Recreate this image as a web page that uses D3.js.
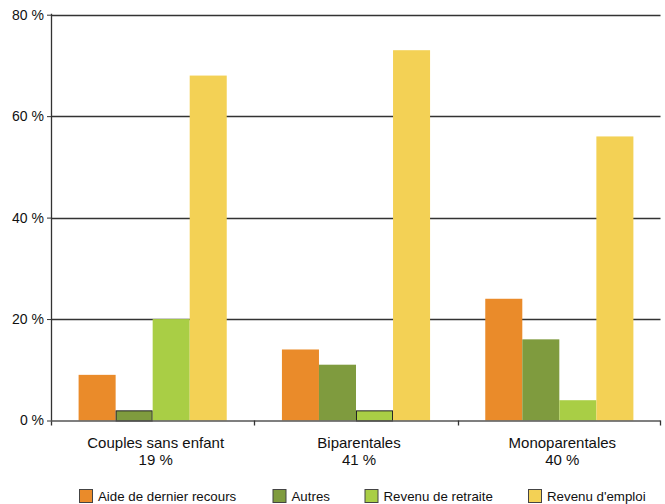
<!DOCTYPE html>
<html><head><meta charset="utf-8">
<script src="https://cdn.jsdelivr.net/npm/d3@7"></script>
<style>body{margin:0;background:#fff}svg{display:block;font-family:"Liberation Sans",Arial,sans-serif}</style>
</head><body><svg id="c" width="665" height="504"></svg>
<script>
const categories = ["Couples sans enfant", "Biparentales", "Monoparentales"];
const categoryShares = ["19 %", "41 %", "40 %"];
const seriesNames = ["Aide de dernier recours", "Autres", "Revenu de retraite", "Revenu d'emploi"];
const aide = [9, 14, 24];
const autres = [2, 11, 16];
const retraite = [20, 2, 4];
const emploi = [68, 73, 56];
const yTicks = [0, 20, 40, 60, 80];
const colors = ["#EA8B2A", "#7F9B3E", "#A9CE45", "#F3D155"];

const seriesValues = [aide, autres, retraite, emploi];
const svg = d3.select("#c");
const mLeft = 51, mRight = 661, mTop = 14.7, mBottom = 420.5;

const x0 = d3.scaleBand().domain(categories).range([mLeft, mRight]);
const pad = 27.6;
const x1 = d3.scaleBand().domain(seriesNames).range([pad, x0.bandwidth() - pad]);
const y = d3.scaleLinear().domain([0, 80]).range([mBottom, mTop]);

// gridlines
svg.append("g").selectAll("line").data(yTicks.filter(d => d > 0)).join("line")
  .attr("x1", mLeft).attr("x2", mRight - 0.5)
  .attr("y1", d => Math.round(y(d)) + 0.5).attr("y2", d => Math.round(y(d)) + 0.5)
  .attr("stroke", "#333").attr("stroke-width", 1.3);

// y axis
const ya = svg.append("g").attr("transform", `translate(${mLeft},0)`)
  .call(d3.axisLeft(y).tickValues(yTicks).tickSize(4).tickFormat(d => d + " %"));
ya.select(".domain").remove();
ya.selectAll(".tick line").attr("stroke", "#333");
ya.selectAll(".tick text").attr("font-size", 14).attr("fill", "#111").attr("x", -7)
  .attr("font-family", "Liberation Sans, Arial, sans-serif");
svg.append("line").attr("x1", mLeft + 0.5).attr("x2", mLeft + 0.5).attr("y1", mTop - 1).attr("y2", mBottom + 5)
  .attr("stroke", "#333").attr("stroke-width", 1.3);

// bars
const rows = categories.map((c, i) => ({cat: c, vals: seriesNames.map((s, j) => ({s, j, v: seriesValues[j][i]}))}));
const g = svg.append("g").selectAll("g").data(rows).join("g")
  .attr("transform", d => `translate(${x0(d.cat)},0)`);
g.selectAll("rect").data(d => d.vals).join("rect")
  .attr("x", d => x1(d.s) + (d.v <= 2 ? 0.5 : 0))
  .attr("width", d => x1.bandwidth() - (d.v <= 2 ? 1 : 0))
  .attr("y", d => y(d.v) + (d.v <= 2 ? 0.5 : 0))
  .attr("height", d => mBottom - y(d.v))
  .attr("fill", d => colors[d.j])
  .attr("stroke", d => d.v <= 2 ? "#222" : "none")
  .attr("stroke-width", 1);

// x axis
svg.append("line").attr("x1", mLeft).attr("x2", mRight - 0.5).attr("y1", mBottom + 0.5).attr("y2", mBottom + 0.5)
  .attr("stroke", "#555").attr("stroke-width", 1.5);
const tickXs = categories.slice(1).map(d => x0(d)).concat([mRight - 1]);
svg.append("g").selectAll("line").data(tickXs).join("line")
  .attr("x1", d => Math.round(d) + 0.5).attr("x2", d => Math.round(d) + 0.5)
  .attr("y1", mBottom).attr("y2", mBottom + 5).attr("stroke", "#333").attr("stroke-width", 1.3);

const lab = svg.append("g").selectAll("text").data(categories).join("text")
  .attr("text-anchor", "middle").attr("font-size", 15).attr("fill", "#111")
  .attr("transform", d => `translate(${x0(d) + x0.bandwidth() / 2 + 3},0)`);
lab.append("tspan").attr("x", 0).attr("y", 448).text(d => d);
lab.append("tspan").attr("x", 0).attr("y", 464.5).text((d, i) => categoryShares[i]);

// legend
const legX = [79, 272.5, 364.5, 528];
const lg = svg.append("g").selectAll("g").data(seriesNames).join("g")
  .attr("transform", (d, i) => `translate(${legX[i]},489)`);
lg.append("rect").attr("x", 0.5).attr("y", 0.5).attr("width", 13).attr("height", 13)
  .attr("fill", (d, i) => colors[i]).attr("stroke", "#444").attr("stroke-width", 1);
lg.append("text").attr("x", 19).attr("y", 12).attr("font-size", 13.3).attr("fill", "#111").text(d => d);
</script></body></html>
